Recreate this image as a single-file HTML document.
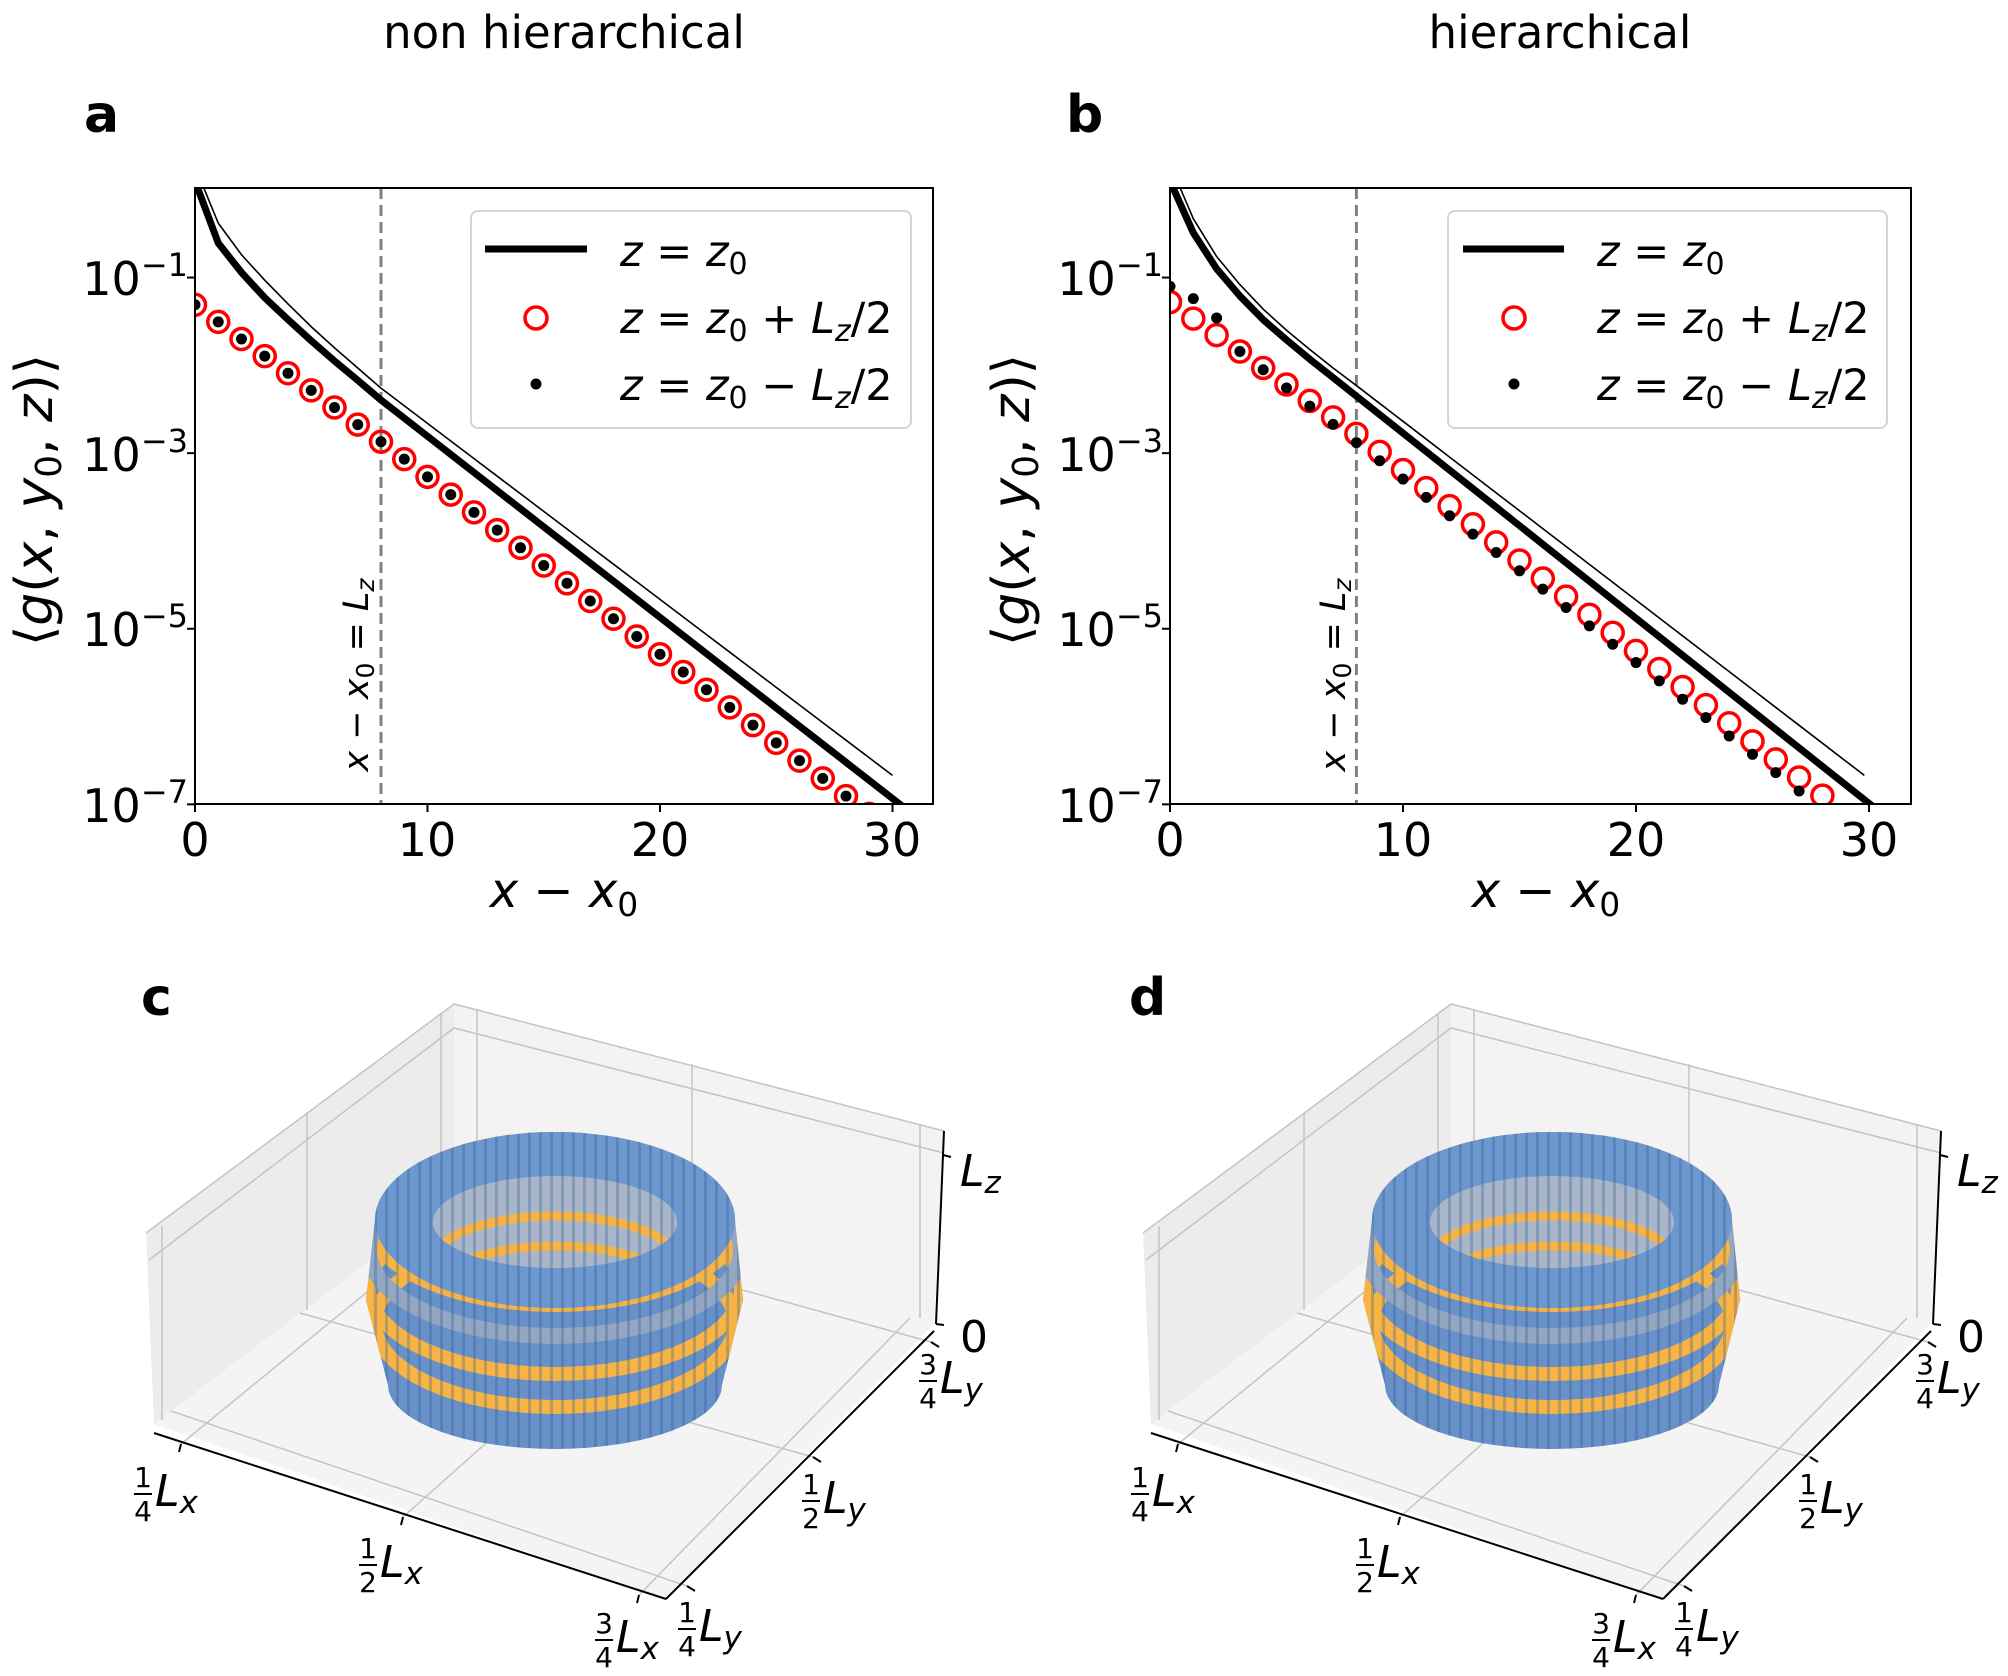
<!DOCTYPE html>
<html><head><meta charset="utf-8"><style>
html,body{margin:0;padding:0;background:#fff;}
svg{display:block;}
text{font-family:"DejaVu Sans","Liberation Sans",sans-serif;fill:#000;}
.it{font-style:italic;}
</style></head><body>
<svg id="s" width="2008" height="1676" viewBox="0 0 2008 1676" xmlns="http://www.w3.org/2000/svg">
<defs>
<clipPath id="ca"><rect x="195" y="188" width="738" height="616"/></clipPath>
<clipPath id="cb"><rect x="1170" y="188" width="741" height="616"/></clipPath>
<clipPath id="body"><path d="M375 1220 A180 88 0 0 1 735 1220 L743 1300 L722 1385 A167 64 0 0 1 388 1385 L366 1300 Z"/></clipPath>
<clipPath id="hole"><ellipse cx="555" cy="1222" rx="122" ry="46"/></clipPath>
<pattern id="vs" width="11" height="40" patternUnits="userSpaceOnUse"><rect x="0" y="0" width="3" height="40" fill="#2f5a90" opacity="0.3"/></pattern>
<g id="torus">
  <path d="M375 1220 A180 88 0 0 1 735 1220 L743 1300 L722 1385 A167 64 0 0 1 388 1385 L366 1300 Z" fill="#6791c8"/>
  <g clip-path="url(#body)" fill="none" stroke="#f7b445">
    <ellipse cx="555" cy="1218" rx="186" ry="86" stroke-width="16"/>
    <ellipse cx="555" cy="1288" rx="186" ry="86" stroke-width="14"/>
    <ellipse cx="555" cy="1323" rx="180" ry="84" stroke-width="14"/>
    <ellipse cx="555" cy="1250" rx="186" ry="86" stroke="#93a6c2" stroke-width="16"/>
    <rect x="360" y="1120" width="400" height="340" fill="url(#vs)" stroke="none"/>
  </g>
  <ellipse cx="555" cy="1220" rx="180" ry="88" fill="#6d98cf"/>
  <ellipse cx="555" cy="1220" rx="180" ry="88" fill="url(#vs)"/>
  <ellipse cx="555" cy="1222" rx="122" ry="46" fill="#a9b6c9"/>
  <g clip-path="url(#hole)" fill="none" stroke="#f7b445" stroke-width="9">
    <ellipse cx="555" cy="1262" rx="122" ry="46"/>
    <ellipse cx="555" cy="1292" rx="122" ry="46"/>
    <ellipse cx="555" cy="1318" rx="122" ry="46"/>
    <rect x="430" y="1170" width="250" height="110" fill="url(#vs)" stroke="none"/>
  </g>
</g>
<g id="box">
  <polygon points="146,1233 454,1004 454,1197 154,1424" fill="#ececec"/>
  <polygon points="454,1004 944,1131 934,1324 454,1197" fill="#f3f3f3"/>
  <polygon points="154,1424 454,1197 934,1324 666,1599" fill="#f4f4f4"/>
  <g stroke="#c4c4c4" stroke-width="1.5" fill="none">
    <polyline points="146,1233 454,1004 944,1131"/>
    <polyline points="149,1260 454,1028 944,1153"/>
    <line x1="162" y1="1226" x2="162" y2="1420"/>
    <line x1="307" y1="1113" x2="307" y2="1310"/>
    <line x1="441" y1="1013" x2="441" y2="1206"/>
    <line x1="477" y1="1009" x2="477" y2="1203"/>
    <line x1="692" y1="1064" x2="692" y2="1260"/>
    <line x1="920" y1="1124" x2="920" y2="1318"/>
    <line x1="181" y1="1444" x2="476" y2="1203"/>
    <line x1="403" y1="1517" x2="692" y2="1260"/>
    <line x1="639" y1="1595" x2="910" y2="1318"/>
    <line x1="687" y1="1586" x2="171" y2="1411"/>
    <line x1="813" y1="1457" x2="300" y2="1313"/>
    <line x1="931" y1="1342" x2="441" y2="1207"/>
  </g>
  <g stroke="#000" stroke-width="2" fill="none">
    <line x1="154" y1="1433" x2="666" y2="1599"/>
    <line x1="666" y1="1599" x2="934" y2="1331"/>
    <line x1="944" y1="1131" x2="936" y2="1324"/>
    <line x1="181" y1="1444" x2="179" y2="1452"/>
    <line x1="403" y1="1517" x2="401" y2="1525"/>
    <line x1="639" y1="1595" x2="637" y2="1603"/>
    <line x1="687" y1="1586" x2="695" y2="1591"/>
    <line x1="813" y1="1457" x2="821" y2="1462"/>
    <line x1="931" y1="1342" x2="939" y2="1347"/>
    <line x1="943" y1="1155" x2="951" y2="1157"/>
    <line x1="936" y1="1324" x2="944" y2="1325"/>
  </g>
</g>
<g id="lab3d" font-size="44">
 <g transform="translate(143,1506)"><text y="-19" font-size="28" text-anchor="middle">1</text><line x1="-9" x2="9" y1="-12" y2="-12" stroke="#000" stroke-width="2"/><text y="15" font-size="28" text-anchor="middle">4</text><text x="12" class="it">L<tspan font-size="31" dy="7">x</tspan></text></g>
 <g transform="translate(368,1577)"><text y="-19" font-size="28" text-anchor="middle">1</text><line x1="-9" x2="9" y1="-12" y2="-12" stroke="#000" stroke-width="2"/><text y="15" font-size="28" text-anchor="middle">2</text><text x="12" class="it">L<tspan font-size="31" dy="7">x</tspan></text></g>
 <g transform="translate(604,1652)"><text y="-19" font-size="28" text-anchor="middle">3</text><line x1="-9" x2="9" y1="-12" y2="-12" stroke="#000" stroke-width="2"/><text y="15" font-size="28" text-anchor="middle">4</text><text x="12" class="it">L<tspan font-size="31" dy="7">x</tspan></text></g>
 <g transform="translate(687,1641)"><text y="-19" font-size="28" text-anchor="middle">1</text><line x1="-9" x2="9" y1="-12" y2="-12" stroke="#000" stroke-width="2"/><text y="15" font-size="28" text-anchor="middle">4</text><text x="12" class="it">L<tspan font-size="31" dy="7">y</tspan></text></g>
 <g transform="translate(811,1513)"><text y="-19" font-size="28" text-anchor="middle">1</text><line x1="-9" x2="9" y1="-12" y2="-12" stroke="#000" stroke-width="2"/><text y="15" font-size="28" text-anchor="middle">2</text><text x="12" class="it">L<tspan font-size="31" dy="7">y</tspan></text></g>
 <g transform="translate(928,1393)"><text y="-19" font-size="28" text-anchor="middle">3</text><line x1="-9" x2="9" y1="-12" y2="-12" stroke="#000" stroke-width="2"/><text y="15" font-size="28" text-anchor="middle">4</text><text x="12" class="it">L<tspan font-size="31" dy="7">y</tspan></text></g>
 <text x="960" y="1186" class="it">L<tspan font-size="31" dy="7">z</tspan></text>
 <text x="960" y="1352">0</text>
</g>
</defs>

<text x="564" y="48" font-size="45" text-anchor="middle" font-family="Liberation Sans">non hierarchical</text>
<text x="1560" y="48" font-size="45" text-anchor="middle" font-family="Liberation Sans">hierarchical</text>
<text x="84" y="132" font-size="52" font-weight="bold" font-family="Liberation Sans">a</text>
<text x="1066" y="132" font-size="52" font-weight="bold" font-family="Liberation Sans">b</text>
<text x="141" y="1015" font-size="52" font-weight="bold" font-family="Liberation Sans">c</text>
<text x="1129" y="1015" font-size="52" font-weight="bold" font-family="Liberation Sans">d</text>

<g id="plots"></g>

<g font-size="46">
<text x="188" y="295" text-anchor="end">10<tspan dy="-19" font-size="32">−1</tspan></text>
<text x="188" y="471" text-anchor="end">10<tspan dy="-19" font-size="32">−3</tspan></text>
<text x="188" y="646" text-anchor="end">10<tspan dy="-19" font-size="32">−5</tspan></text>
<text x="188" y="822" text-anchor="end">10<tspan dy="-19" font-size="32">−7</tspan></text>
<text x="195" y="856" text-anchor="middle">0</text>
<text x="427" y="856" text-anchor="middle">10</text>
<text x="660" y="856" text-anchor="middle">20</text>
<text x="892" y="856" text-anchor="middle">30</text>
<text x="1163" y="295" text-anchor="end">10<tspan dy="-19" font-size="32">−1</tspan></text>
<text x="1163" y="471" text-anchor="end">10<tspan dy="-19" font-size="32">−3</tspan></text>
<text x="1163" y="646" text-anchor="end">10<tspan dy="-19" font-size="32">−5</tspan></text>
<text x="1163" y="822" text-anchor="end">10<tspan dy="-19" font-size="32">−7</tspan></text>
<text x="1170" y="856" text-anchor="middle">0</text>
<text x="1403" y="856" text-anchor="middle">10</text>
<text x="1636" y="856" text-anchor="middle">20</text>
<text x="1869" y="856" text-anchor="middle">30</text>
</g>
<text x="564" y="907" font-size="48" text-anchor="middle"><tspan class="it">x</tspan> − <tspan class="it">x</tspan><tspan font-size="33" dy="9">0</tspan></text>
<text x="1546" y="907" font-size="48" text-anchor="middle"><tspan class="it">x</tspan> − <tspan class="it">x</tspan><tspan font-size="33" dy="9">0</tspan></text>
<text transform="translate(52,500) rotate(-90)" font-size="52" text-anchor="middle">⟨<tspan class="it">g</tspan>(<tspan class="it">x</tspan>, <tspan class="it">y</tspan><tspan font-size="36" dy="9">0</tspan><tspan dy="-9">, </tspan><tspan class="it">z</tspan>)⟩</text>
<text transform="translate(1029,500) rotate(-90)" font-size="52" text-anchor="middle">⟨<tspan class="it">g</tspan>(<tspan class="it">x</tspan>, <tspan class="it">y</tspan><tspan font-size="36" dy="9">0</tspan><tspan dy="-9">, </tspan><tspan class="it">z</tspan>)⟩</text>
<text transform="translate(368,675) rotate(-90)" font-size="35" text-anchor="middle"><tspan class="it">x</tspan> − <tspan class="it">x</tspan><tspan font-size="25" dy="6">0</tspan><tspan dy="-6"> = </tspan><tspan class="it">L</tspan><tspan class="it" font-size="25" dy="6">z</tspan></text>
<text transform="translate(1345,675) rotate(-90)" font-size="35" text-anchor="middle"><tspan class="it">x</tspan> − <tspan class="it">x</tspan><tspan font-size="25" dy="6">0</tspan><tspan dy="-6"> = </tspan><tspan class="it">L</tspan><tspan class="it" font-size="25" dy="6">z</tspan></text>

<g>
<rect x="471" y="211" width="440" height="217" rx="7" fill="#fff" fill-opacity="0.85" stroke="#d4d4d4" stroke-width="2"/>
<line x1="485" y1="249" x2="587" y2="249" stroke="#000" stroke-width="7"/>
<circle cx="536" cy="318" r="11" fill="none" stroke="#f00" stroke-width="3.5"/>
<circle cx="536" cy="384" r="5.5" fill="#000"/>
<g font-size="43">
<text x="620" y="266"><tspan class="it">z</tspan> = <tspan class="it">z</tspan><tspan font-size="30" dy="8">0</tspan></text>
<text x="620" y="333"><tspan class="it">z</tspan> = <tspan class="it">z</tspan><tspan font-size="30" dy="8">0</tspan><tspan dy="-8"> + </tspan><tspan class="it">L</tspan><tspan class="it" font-size="30" dy="8">z</tspan><tspan dy="-8">/2</tspan></text>
<text x="620" y="400"><tspan class="it">z</tspan> = <tspan class="it">z</tspan><tspan font-size="30" dy="8">0</tspan><tspan dy="-8"> − </tspan><tspan class="it">L</tspan><tspan class="it" font-size="30" dy="8">z</tspan><tspan dy="-8">/2</tspan></text>
</g>
</g>
<g>
<rect x="1448" y="211" width="439" height="217" rx="7" fill="#fff" fill-opacity="0.85" stroke="#d4d4d4" stroke-width="2"/>
<line x1="1463" y1="249" x2="1564" y2="249" stroke="#000" stroke-width="7"/>
<circle cx="1514" cy="318" r="11" fill="none" stroke="#f00" stroke-width="3.5"/>
<circle cx="1514" cy="384" r="5.5" fill="#000"/>
<g font-size="43">
<text x="1597" y="266"><tspan class="it">z</tspan> = <tspan class="it">z</tspan><tspan font-size="30" dy="8">0</tspan></text>
<text x="1597" y="333"><tspan class="it">z</tspan> = <tspan class="it">z</tspan><tspan font-size="30" dy="8">0</tspan><tspan dy="-8"> + </tspan><tspan class="it">L</tspan><tspan class="it" font-size="30" dy="8">z</tspan><tspan dy="-8">/2</tspan></text>
<text x="1597" y="400"><tspan class="it">z</tspan> = <tspan class="it">z</tspan><tspan font-size="30" dy="8">0</tspan><tspan dy="-8"> − </tspan><tspan class="it">L</tspan><tspan class="it" font-size="30" dy="8">z</tspan><tspan dy="-8">/2</tspan></text>
</g>
</g>

<use href="#box"/>
<use href="#torus"/>
<use href="#lab3d"/>
<g transform="translate(997,0)"><use href="#box"/><use href="#torus"/><use href="#lab3d"/></g>
</svg>
<script>
(function(){
var NS="http://www.w3.org/2000/svg";
var root=document.getElementById("plots");
function el(n,a,p){var e=document.createElementNS(NS,n);for(var k in a)e.setAttribute(k,a[k]);(p||root).appendChild(e);return e;}
function Y(l){return 188+(0.02-l)*87.8;}
function ext(head,x0,v0,x1,v1){var r=head.slice();for(var x=x0+1;x<x1;x++)r.push([x,v0+(v1-v0)*(x-x0)/(x1-x0)]);r.push([x1,v1]);return r;}
function panel(ox,sx,clip,thick,thin,circ,dots,w){
  var X=function(x){return ox+x*sx;};
  [-1,-3,-5,-7].forEach(function(l){el("line",{x1:ox-8,x2:ox,y1:Y(l),y2:Y(l),stroke:"#000","stroke-width":2});});
  [0,10,20,30].forEach(function(x){el("line",{x1:X(x),x2:X(x),y1:804,y2:812,stroke:"#000","stroke-width":2});});
  var g=el("g",{"clip-path":"url(#"+clip+")"});
  el("line",{x1:X(8),x2:X(8),y1:188,y2:804,stroke:"#808080","stroke-width":3,"stroke-dasharray":"11,6"},g);
  function pl(d,sw){el("polyline",{points:d.map(function(p){return X(p[0])+","+Y(p[1]);}).join(" "),fill:"none",stroke:"#000","stroke-width":sw,"stroke-linejoin":"round"},g);}
  pl(thin,1.6);pl(thick,7);
  circ.forEach(function(v,i){el("circle",{cx:X(i),cy:Y(v),r:10.5,fill:"none",stroke:"#f00","stroke-width":3.5},g);});
  dots.forEach(function(v,i){el("circle",{cx:X(i),cy:Y(v),r:5.5,fill:"#000"},g);});
  el("rect",{x:ox,y:188,width:w,height:616,fill:"none",stroke:"#000","stroke-width":2});
}
var ta=ext([[0,0.1],[1,-0.607],[2,-0.942],[3,-1.23],[4,-1.479],[5,-1.72],[6,-1.95],[7,-2.17],[8,-2.395]],8,-2.395,31,-7.14);
var tha=ext([[0.1,0.2],[1,-0.38],[2,-0.74],[3,-1.03],[4,-1.3],[5,-1.56],[6,-1.8],[7,-2.03],[8,-2.26]],8,-2.26,30,-6.67);
var ca=[];for(var i=0;i<=29;i++)ca.push(i<=8?-1.31-0.195*i:-2.866-0.202*(i-8));
panel(195,23.25,"ca",ta,tha,ca,ca,738);
var tb=ext([[0,0.1],[1,-0.49],[2,-0.9],[3,-1.21],[4,-1.48],[5,-1.71],[6,-1.93],[7,-2.14],[8,-2.35]],8,-2.35,31,-7.2);
var thb=ext([[0.15,0.2],[1,-0.33],[2,-0.76],[3,-1.08],[4,-1.36],[5,-1.6],[6,-1.82],[7,-2.03],[8,-2.23]],8,-2.23,29.8,-6.67);
var cb=[],db=[];for(var i=0;i<=28;i++){var c=i<=8?-1.28-0.1875*i:-2.78-0.206*(i-8);cb.push(c);
 var d; if(i==0)d=-1.1;else if(i==1)d=-1.24;else if(i==2)d=-1.46;else d=c-Math.min(0.1,0.02*(i-3)); if(i>=9)d=c-0.1-0.003*(i-9); db.push(d);}
panel(1170,23.3,"cb",tb,thb,cb,db,741);
})();
</script>
</body></html>
